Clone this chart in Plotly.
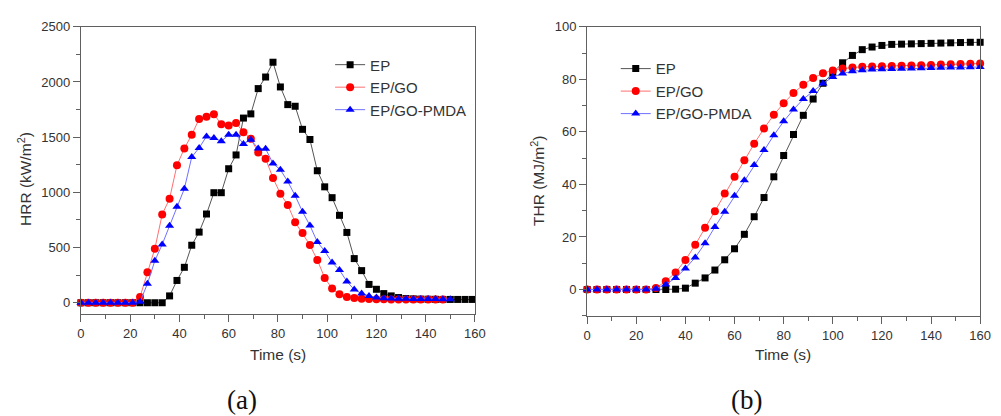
import plotly.graph_objects as go

# The page body has an 8px margin, so the figure is drawn 8px in from the window edge.
OFF = 8
W, H = 1001 - OFF, 416 - OFF

# ---------------- data ----------------
t_hrr_ep = [0, 3, 6, 9, 12, 15, 18, 21, 24, 27, 30, 33, 36, 39, 42, 45, 48, 51, 54, 57,
            60, 63, 66, 69, 72, 75, 78, 81, 84, 87, 90, 93, 96, 99, 102, 105, 108, 111,
            114, 117, 120, 123, 126, 129, 132, 135, 138, 141, 144, 147, 150, 153, 156, 159]
hrr_ep = [0, 0, 0, 0, 0, 0, 0, 0, 0, 0, 0, 0, 62, 202, 321, 521, 640, 804, 997, 997,
          1214, 1339, 1673, 1711, 1940, 2045, 2179, 1955, 1795, 1780, 1571, 1479, 1196, 1050,
          952, 792, 637, 400, 291, 166, 122, 83, 62, 47, 38, 35, 33, 32, 31, 30, 30, 30, 30, 30]

t_hrr_go = [0, 3, 6, 9, 12, 15, 18, 21, 24, 27, 30, 33, 36, 39, 42, 45, 48, 51, 54, 57,
            60, 63, 66, 69, 72, 75, 78, 81, 84, 87, 90, 93, 96, 99, 102, 105, 108, 111,
            114, 117, 120, 123, 126, 129, 132, 135, 138, 141, 144, 147]
hrr_go = [0, 0, 0, 0, 0, 0, 0, 0, 53, 276, 489, 800, 943, 1246, 1397, 1522, 1664, 1685, 1708, 1617,
          1605, 1628, 1545, 1485, 1362, 1305, 1130, 988, 885, 730, 632, 522, 388, 225, 128, 77, 53, 44,
          36, 33, 32, 31, 30, 30, 30, 30, 30, 30, 30, 30]

t_hrr_pmda = [0, 3, 6, 9, 12, 15, 18, 21, 24, 27, 30, 33, 36, 39, 42, 45, 48, 51, 54, 57,
              60, 63, 66, 69, 72, 75, 78, 81, 84, 87, 90, 93, 96, 99, 102, 105, 108, 111,
              114, 117, 120, 123, 126, 129, 132, 135, 138, 141, 144, 147, 150]
hrr_pmda = [0, 0, 0, 0, 0, 0, 0, 0, 8, 172, 380, 528, 697, 869, 1033, 1320, 1403, 1507, 1492, 1462,
            1522, 1522, 1439, 1477, 1397, 1395, 1261, 1205, 1098, 970, 824, 700, 551, 468, 365, 296, 193, 119,
            83, 62, 47, 41, 39, 37, 36, 35, 34, 33, 33, 32, 32]

t_thr = [0, 4, 8, 12, 16, 20, 24, 28, 32, 36, 40, 44, 48, 52, 56, 60, 64, 68, 72, 76,
         80, 84, 88, 92, 96, 100, 104, 108, 112, 116, 120, 124, 128, 132, 136, 140, 144,
         148, 152, 156, 160]
thr_ep = [0, 0, 0, 0, 0, 0, 0, 0, 0, 0.1, 0.5, 2.4, 4.4, 7.4, 11.3, 15.5, 21, 27.7, 35, 42.9,
          51, 59, 66.3, 72.5, 78.5, 82.5, 86.3, 89.1, 91.3, 92.3, 92.9, 93.3, 93.4, 93.5, 93.6, 93.7, 93.8,
          93.9, 94.0, 94.1, 94.1]
thr_go = [0, 0, 0, 0, 0, 0, 0, 0.6, 3.1, 6.5, 11.2, 17, 23.5, 29.8, 36.5, 42.9, 49.2, 55.5, 61.3, 66.5,
          70.9, 74.8, 77.9, 80.5, 82.3, 83.4, 84.1, 84.5, 84.8, 84.9, 85.0, 85.1, 85.2, 85.3, 85.4, 85.5, 85.6,
          85.7, 85.8, 85.9, 86.0]
thr_pmda = [0, 0, 0, 0, 0, 0, 0, 0.3, 1.9, 4.4, 8, 12.2, 17.6, 23.8, 29.6, 35.7, 41.6, 47.4, 53.1, 58.7,
            64, 68.5, 72.5, 75.6, 78.4, 80.9, 82.2, 83.1, 83.5, 83.7, 83.8, 83.9, 84.0, 84.1, 84.2, 84.3, 84.4,
            84.5, 84.5, 84.6, 84.7]

names = ["EP", "EP/GO", "EP/GO-PMDA"]
marker_colors = ["#000000", "#ff0000", "#0000ff"]
line_colors = ["#555555", "#ff7070", "#7070ff"]
symbols = ["square", "circle", "triangle-up"]
sizes = [7, 8, 8]

# ---------------- figure ----------------
fig = go.Figure()

hrr_sets = [(t_hrr_ep, hrr_ep), (t_hrr_go, hrr_go), (t_hrr_pmda, hrr_pmda)]
for i, (tx, vy) in enumerate(hrr_sets):
    fig.add_trace(go.Scatter(
        x=tx, y=vy, name=names[i], mode="lines+markers",
        line=dict(color=line_colors[i], width=1),
        marker=dict(symbol=symbols[i], color=marker_colors[i], size=sizes[i]),
        xaxis="x", yaxis="y", legend="legend", cliponaxis=False))

thr_sets = [thr_ep, thr_go, thr_pmda]
for i, vy in enumerate(thr_sets):
    fig.add_trace(go.Scatter(
        x=t_thr, y=vy, name=names[i], mode="lines+markers",
        line=dict(color=line_colors[i], width=1),
        marker=dict(symbol=symbols[i], color=marker_colors[i], size=sizes[i]),
        xaxis="x2", yaxis="y2", legend="legend2", cliponaxis=False))

def px(x):
    return (x - OFF) / W

def py(y):
    return 1 - (y - OFF) / H

axis_common = dict(
    showline=True, linecolor="#606060", linewidth=1.3, mirror=True,
    ticks="outside", ticklen=7, tickwidth=1.2, tickcolor="#606060",
    showgrid=False, zeroline=False,
    tickfont=dict(family="Liberation Sans, Arial", size=13, color="#333333"),
)

leg_font = dict(family="Liberation Sans, Arial", size=15, color="#333333")

fig.update_layout(
    width=W, height=H,
    margin=dict(l=0, r=0, t=0, b=0),
    paper_bgcolor="white", plot_bgcolor="white",
    font=dict(family="Liberation Sans, Arial", color="#333333"),
    xaxis=dict(domain=[px(78), px(478)], range=[0, 160], dtick=20, anchor="y",
               minor=dict(ticks="outside", ticklen=4, dtick=10, tickcolor="#606060"),
               **axis_common),
    yaxis=dict(domain=[py(312), py(20)], range=[-100, 2500], dtick=500, anchor="x",
               minor=dict(ticks="outside", ticklen=4, dtick=250, tickcolor="#606060"),
               **axis_common),
    xaxis2=dict(domain=[px(592), px(991)], range=[0, 160], dtick=20, anchor="y2",
                minor=dict(ticks="outside", ticklen=4, dtick=10, tickcolor="#606060"),
                **axis_common),
    yaxis2=dict(domain=[py(314), py(20)], range=[-10, 100], dtick=20, anchor="x2",
                minor=dict(ticks="outside", ticklen=4, dtick=10, tickcolor="#606060"),
                **axis_common),
    legend=dict(x=px(331), y=py(42), xanchor="left", yanchor="top",
                bgcolor="rgba(0,0,0,0)", borderwidth=0, tracegroupgap=0, font=leg_font),
    legend2=dict(x=px(621), y=py(46), xanchor="left", yanchor="top",
                 bgcolor="rgba(0,0,0,0)", borderwidth=0, tracegroupgap=0, font=leg_font),
    showlegend=True,
)

ann_font = dict(family="Liberation Sans, Arial", size=15.5, color="#333333")
fig.add_annotation(x=px(278), y=py(353), xref="paper", yref="paper", text="Time (s)",
                   showarrow=False, font=ann_font, xanchor="center", yanchor="middle")
fig.add_annotation(x=px(791), y=py(353), xref="paper", yref="paper", text="Time (s)",
                   showarrow=False, font=ann_font, xanchor="center", yanchor="middle")
fig.add_annotation(x=px(21), y=py(175), xref="paper", yref="paper", text="HRR (kW/m<sup>2</sup>)",
                   showarrow=False, font=ann_font, textangle=-90, xanchor="center", yanchor="middle")
fig.add_annotation(x=px(542), y=py(177), xref="paper", yref="paper", text="THR (MJ/m<sup>2</sup>)",
                   showarrow=False, font=ann_font, textangle=-90, xanchor="center", yanchor="middle")
serif = dict(family="Liberation Serif, Times New Roman", size=27, color="#111111")
fig.add_annotation(x=px(242), y=py(400), xref="paper", yref="paper", text="(a)",
                   showarrow=False, font=serif, xanchor="center", yanchor="middle")
fig.add_annotation(x=px(754), y=py(400), xref="paper", yref="paper", text="(b)",
                   showarrow=False, font=serif, xanchor="center", yanchor="middle")

fig.write_html("out.html")
